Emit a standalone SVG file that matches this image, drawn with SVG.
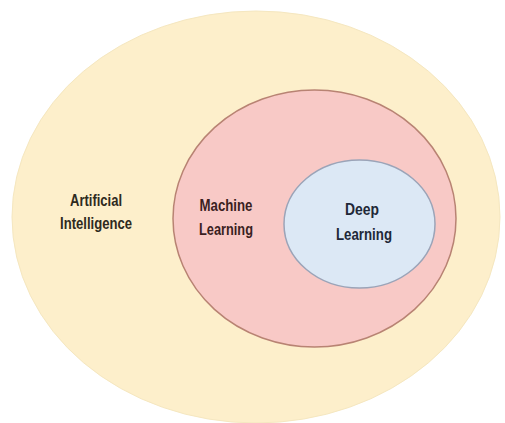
<svg xmlns="http://www.w3.org/2000/svg" width="505" height="423" viewBox="0 0 505 423">
  <style>
    .lbl { font-family: "Liberation Sans", Arial, sans-serif; font-weight: bold; font-size: 17px; text-anchor: middle; }
  </style>
  <rect width="505" height="423" fill="#ffffff"/>
  <g id="ai">
    <ellipse cx="256" cy="217" rx="244" ry="206" fill="#fdefcb" stroke="#f5e7c0" stroke-width="1"/>
    <text class="lbl" fill="#2e2a1e" x="96" y="206" textLength="52" lengthAdjust="spacingAndGlyphs">Artificial</text>
    <text class="lbl" fill="#2e2a1e" x="96" y="229" textLength="72" lengthAdjust="spacingAndGlyphs">Intelligence</text>
  </g>
  <g id="ml">
    <ellipse cx="314.5" cy="218.5" rx="141.5" ry="128.5" fill="#f8c9c6" stroke="#b88373" stroke-width="1.5"/>
    <text class="lbl" fill="#3b1f1f" x="226" y="211" textLength="53" lengthAdjust="spacingAndGlyphs">Machine</text>
    <text class="lbl" fill="#3b1f1f" x="226" y="235" textLength="54" lengthAdjust="spacingAndGlyphs">Learning</text>
  </g>
  <g id="dl">
    <ellipse cx="359.5" cy="224" rx="75.5" ry="64" fill="#dce8f5" stroke="#9ba4b8" stroke-width="1.5"/>
    <text class="lbl" fill="#1f2838" x="362" y="215" textLength="34" lengthAdjust="spacingAndGlyphs">Deep</text>
    <text class="lbl" fill="#1f2838" x="364" y="240" textLength="56" lengthAdjust="spacingAndGlyphs">Learning</text>
  </g>
  <g id="connectors"></g>
</svg>
